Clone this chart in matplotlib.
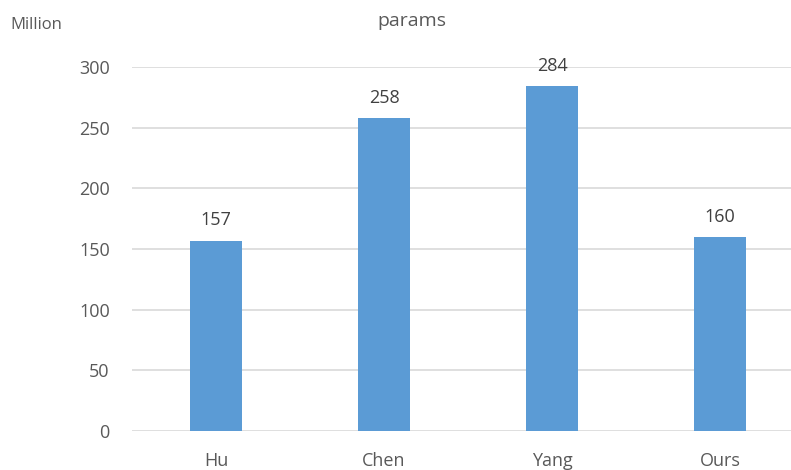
import matplotlib
matplotlib.use("Agg")
import matplotlib.pyplot as plt

categories = ["Hu", "Chen", "Yang", "Ours"]
params_million = [157, 258, 284, 160]
y_ticks = [0, 50, 100, 150, 200, 250, 300]

plt.rcParams['font.family'] = ['Open Sans', 'DejaVu Sans']
text_color = "#595959"
bar_color = "#5B9BD5"
grid_color = "#D9D9D9"

fig = plt.figure(figsize=(7.91, 4.70), dpi=100)
ax = fig.add_axes([132 / 791, 1 - 431 / 470, 1 - 132 / 791, (431 - 67) / 470])

x = list(range(len(categories)))
bars = ax.bar(x, params_million, width=0.315, color=bar_color, zorder=3)
for xi, v in zip(x, params_million):
    ax.annotate(str(v), (xi, v), xytext=(0, 8), textcoords="offset points",
                ha="center", va="bottom", fontsize=13, color="#404040")

ax.set_ylim(0, 300)
ax.set_xlim(-0.5, -0.5 + 659 / 168)
ax.set_yticks(y_ticks)
ax.set_xticks(x)
ax.set_xticklabels(categories)
ax.yaxis.grid(True, color=grid_color, linewidth=1.2, zorder=0)
ax.set_axisbelow(True)
for s in ax.spines.values():
    s.set_visible(False)
ax.tick_params(axis="both", length=0, labelsize=13, colors=text_color)
ax.tick_params(axis="y", pad=16)
ax.tick_params(axis="x", pad=15)

fig.text(412 / 791, 1 - 21 / 470, "params", ha="center", va="center",
         fontsize=14, color=text_color)
fig.text(10 / 791, 1 - 25 / 470, "Million", ha="left", va="center",
         fontsize=12, color=text_color)

fig.savefig("out.png", dpi=100)
